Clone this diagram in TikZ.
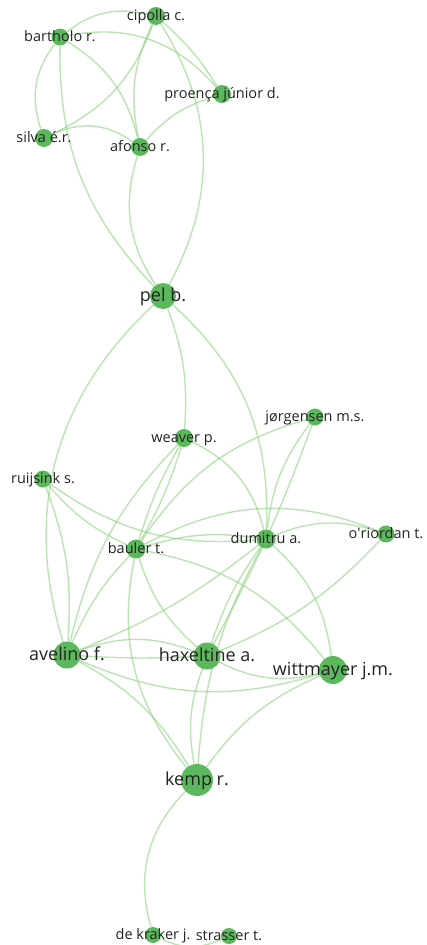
\documentclass[tikz,border=0pt]{standalone}
\usepackage{fontspec}
\setmainfont{Open Sans}
\usetikzlibrary{backgrounds}
\definecolor{nodegreen}{RGB}{92,184,92}
\definecolor{linkgreen}{RGB}{140,210,125}
\definecolor{labelgray}{RGB}{35,35,35}

\begin{document}
\begin{tikzpicture}[x=1pt,y=-1pt,
  vert/.style={circle, fill=nodegreen, draw=none, inner sep=0pt},
  lab/.style={text=labelgray, inner sep=0pt, anchor=base},
  smalllab/.style={lab, font=\fontsize{14.5}{16}\selectfont},
  biglab/.style={lab, font=\fontsize{18}{20}\selectfont},
  link/.style={draw=linkgreen, line width=1.4pt, draw opacity=0.6}]
\useasboundingbox (0,0) rectangle (427,945);

% author nodes (circle size follows weight)
\node[vert, minimum size=18pt] (cipolla)   at (156,16)  {};
\node[vert, minimum size=17pt] (bartholo)  at (60,37)   {};
\node[vert, minimum size=18pt] (proenca)   at (222,94)  {};
\node[vert, minimum size=18pt] (silva)     at (44,138)  {};
\node[vert, minimum size=18pt] (afonso)    at (140,147) {};
\node[vert, minimum size=26pt] (pel)       at (163,296) {};
\node[vert, minimum size=17pt] (jorgensen) at (315,417) {};
\node[vert, minimum size=18pt] (weaver)    at (184,438) {};
\node[vert, minimum size=17pt] (ruijsink)  at (43,479)  {};
\node[vert, minimum size=19pt] (bauler)    at (136,549) {};
\node[vert, minimum size=19pt] (dumitru)   at (266,539) {};
\node[vert, minimum size=17pt] (oriordan)  at (386,534) {};
\node[vert, minimum size=27pt] (avelino)   at (67,655)  {};
\node[vert, minimum size=27pt] (haxeltine) at (207,656) {};
\node[vert, minimum size=28pt] (wittmayer) at (333,670) {};
\node[vert, minimum size=32pt] (kemp)      at (197,780) {};
\node[vert, minimum size=16pt] (dekraker)  at (153,935) {};
\node[vert, minimum size=16pt] (strasser)  at (229,936) {};

% labels, centred on their circles
\node[smalllab] (cipolla-t)   at ([yshift=-4pt]cipolla.center)   {cipolla c.};
\node[smalllab] (bartholo-t)  at ([yshift=-4pt]bartholo.center)  {bartholo r.};
\node[smalllab] (proenca-t)   at ([yshift=-4pt]proenca.center)   {proença júnior d.};
\node[smalllab] (silva-t)     at ([yshift=-4pt]silva.center)     {silva é.r.};
\node[smalllab] (afonso-t)    at ([yshift=-4pt]afonso.center)    {afonso r.};
\node[biglab]   (pel-t)       at ([yshift=-5pt]pel.center)       {pel b.};
\node[smalllab] (jorgensen-t) at ([yshift=-4pt]jorgensen.center) {jørgensen m.s.};
\node[smalllab] (weaver-t)    at ([yshift=-4pt]weaver.center)    {weaver p.};
\node[smalllab] (ruijsink-t)  at ([yshift=-4pt]ruijsink.center)  {ruijsink s.};
\node[smalllab] (bauler-t)    at ([yshift=-4pt]bauler.center)    {bauler t.};
\node[smalllab] (dumitru-t)   at ([yshift=-4pt]dumitru.center)   {dumitru a.};
\node[smalllab] (oriordan-t)  at ([yshift=-4pt]oriordan.center)  {o\textquotesingle riordan t.};
\node[biglab]   (avelino-t)   at ([yshift=-5pt]avelino.center)   {avelino f.};
\node[biglab]   (haxeltine-t) at ([yshift=-5pt]haxeltine.center) {haxeltine a.};
\node[biglab]   (wittmayer-t) at ([yshift=-5pt]wittmayer.center) {wittmayer j.m.};
\node[biglab]   (kemp-t)      at ([yshift=-5pt]kemp.center)      {kemp r.};
\node[smalllab] (dekraker-t)  at ([yshift=-4pt]dekraker.center)  {de kraker j.};
\node[smalllab] (strasser-t)  at ([yshift=-4pt]strasser.center)  {strasser t.};

% co-authorship links
\begin{scope}[on background layer]
  % upper cluster
  \draw[link] (bartholo) to[bend left=25]  (cipolla);
  \draw[link] (bartholo) to[bend left=30]  (proenca);
  \draw[link] (cipolla)  to[bend left=8]   (proenca);
  \draw[link] (cipolla)  to[bend left=30]  (pel);
  \draw[link] (cipolla)  to[bend left=22]  (silva);
  \draw[link] (cipolla)  to[bend right=18] (afonso);
  \draw[link] (bartholo) to[bend right=28] (silva);
  \draw[link] (bartholo) to[bend left=22]  (afonso);
  \draw[link] (bartholo) to[bend right=22] (pel);
  \draw[link] (silva)    to[bend left=30]  (afonso);
  \draw[link] (afonso)   to[bend left=15]  (proenca);
  \draw[link] (afonso)   to[bend right=25] (pel);
  % from pel b. downwards
  \draw[link] (pel) to[bend right=32] (avelino);
  \draw[link] (pel) to[bend left=12]  (weaver);
  \draw[link] (pel) to[bend left=25]  (dumitru);
  % middle cluster
  \draw[link] (weaver)    to[bend left=25]  (dumitru);
  \draw[link] (weaver)    to[bend left=6]   (bauler);
  \draw[link] (weaver)    to[bend right=6]  (bauler);
  \draw[link] (weaver)    to[bend right=15] (avelino);
  \draw[link] (jorgensen) to[bend right=20] (bauler);
  \draw[link] (jorgensen) to[bend right=15] (dumitru);
  \draw[link] (jorgensen) to[bend left=4]   (haxeltine);
  \draw[link] (ruijsink)  to[bend right=12] (bauler);
  \draw[link] (ruijsink)  to[bend right=20] (dumitru);
  \draw[link] (ruijsink)  to[bend left=12]  (avelino);
  \draw[link] (bauler)    to[bend left=12]  (dumitru);
  \draw[link] (bauler)    to[bend left=25]  (oriordan);
  \draw[link] (dumitru)   to[bend left=20]  (oriordan);
  \draw[link] (oriordan)  to[bend left=12]  (haxeltine);
  \draw[link] (dumitru)   to[bend left=8]   (avelino);
  \draw[link] (bauler)    to[bend right=10] (avelino);
  \draw[link] (bauler)    to[bend right=15] (haxeltine);
  \draw[link] (bauler)    to[bend left=20]  (wittmayer);
  \draw[link] (bauler)    to[bend right=25] (kemp);
  \draw[link] (dumitru)   to[bend left=20]  (wittmayer);
  \draw[link] (dumitru)   to[bend right=8]  (haxeltine);
  \draw[link] (dumitru)   to[bend right=12] (kemp);
  % lower cluster
  \draw[link] (avelino)   to[bend left=20]  (haxeltine);
  \draw[link] (avelino)   to[bend right=3]  (haxeltine);
  \draw[link] (avelino)   to[bend right=20] (wittmayer);
  \draw[link] (avelino)   to[bend left=15]  (kemp);
  \draw[link] (haxeltine) to[bend right=15] (kemp);
  \draw[link] (haxeltine) to[bend right=20] (wittmayer);
  \draw[link] (wittmayer) to[bend right=15] (kemp);
  \draw[link] (kemp)      to[bend right=30] (dekraker);
  \draw[link] (dekraker)  to[bend right=25] (strasser);
\end{scope}
\end{tikzpicture}
\end{document}
